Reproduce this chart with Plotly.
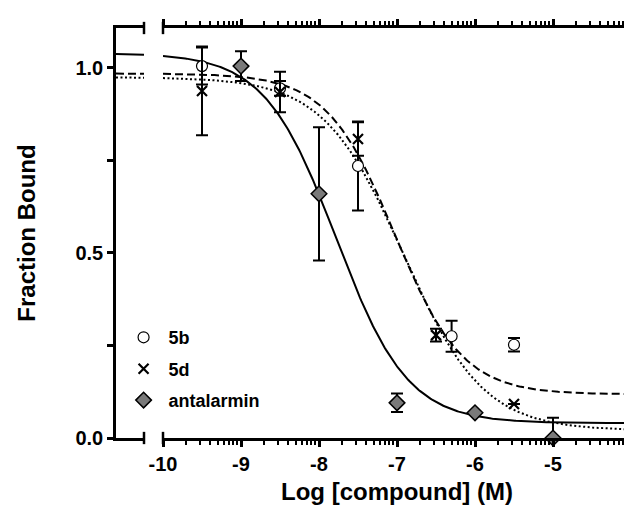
import numpy as np
import plotly.graph_objects as go

# ---- data ----
x_5b = [-9.5, -8.5, -7.5, -6.3, -5.5]
y_5b = [1.005, 0.945, 0.735, 0.275, 0.252]
e_5b = [0.05, 0.02, 0.12, 0.042, 0.018]

x_5d = [-9.5, -8.5, -7.5, -6.5, -5.5]
y_5d = [0.938, 0.935, 0.808, 0.278, 0.092]
e_5d = [0.12, 0.055, 0.045, 0.017, 0.0]

x_ant = [-9, -8, -7, -6, -5]
y_ant = [1.005, 0.66, 0.095, 0.068, 0.0]
e_ant_up = [0.04, 0.18, 0.025, 0.0, 0.055]
e_ant_dn = [0.04, 0.18, 0.025, 0.0, 0.0]

# fitted 4-parameter curves: top, bottom, logIC50, hill slope
fit_5b = [0.985, 0.118, -7.03, 1.0]
fit_5d = [0.975, 0.02, -6.92, 0.85]
fit_ant = [1.04, 0.04, -7.78, 0.95]

x_tickvals = [-10, -9, -8, -7, -6, -5, -4]
x_ticktext = ["-10", "-9", "-8", "-7", "-6", "-5", "-4"]
y_tickvals = [0.0, 0.5, 1.0]
y_ticktext = ["0.0", "0.5", "1.0"]

# ---- helpers ----
def hill(xs, p):
    top, bot, c, h = p
    xs = np.asarray(xs)
    return bot + (top - bot) / (1 + 10 ** ((xs - c) * h))

minor_x = [d + np.log10(k) for d in range(-10, -4) for k in range(2, 10)]

W, H = 632, 513
L, R, T, B = 108, 9, 20, 83
pw = W - L - R
seg1_end = (136 - L) / pw
seg2_start = (155 - L) / pw
left_range = [-10.6, -10.244]

FONT = "Arial, 'Liberation Sans', sans-serif"

fig = go.Figure()

xs_main = np.linspace(-10, -4, 400)
xs_left = np.linspace(left_range[0], left_range[1], 30)
curves = [(fit_5b, "8px,4px"), (fit_5d, "2px,2.5px"), (fit_ant, "solid")]
for p, dash in curves:
    fig.add_trace(go.Scatter(x=xs_main, y=hill(xs_main, p), mode="lines",
                             line=dict(color="black", width=2, dash=dash),
                             showlegend=False, hoverinfo="skip", xaxis="x", yaxis="y"))
    fig.add_trace(go.Scatter(x=xs_left, y=hill(xs_left, p), mode="lines",
                             line=dict(color="black", width=2, dash=dash),
                             showlegend=False, hoverinfo="skip", xaxis="x2", yaxis="y"))

eb = dict(type="data", color="black", thickness=2, width=6)
fig.add_trace(go.Scatter(x=x_5b, y=y_5b, mode="markers", name="5b", legendgroup="a",
                         error_y=dict(array=e_5b, **eb),
                         marker=dict(symbol="circle", size=11, color="white",
                                     line=dict(color="black", width=1.2)),
                         cliponaxis=False, xaxis="x", yaxis="y"))
fig.add_trace(go.Scatter(x=x_5d, y=y_5d, mode="markers", name="5d", legendgroup="b",
                         error_y=dict(array=e_5d, **eb),
                         marker=dict(symbol="x-thin", size=10, color="black",
                                     line=dict(color="black", width=2.2)),
                         cliponaxis=False, xaxis="x", yaxis="y"))
fig.add_trace(go.Scatter(x=x_ant, y=y_ant, mode="markers", name="antalarmin", legendgroup="c",
                         error_y=dict(array=e_ant_up, arrayminus=e_ant_dn, symmetric=False, **eb),
                         marker=dict(symbol="diamond", size=12, color="#7a7a7a",
                                     line=dict(color="black", width=1.5)),
                         cliponaxis=False, xaxis="x", yaxis="y"))

axis_font = dict(family=FONT, size=20, color="black", weight="bold")
title_font = dict(family=FONT, size=24, color="black", weight="bold")
yr = [0, 1.108]

fig.update_layout(
    width=W, height=H,
    margin=dict(l=L, r=R, t=T, b=B, autoexpand=False),
    paper_bgcolor="white", plot_bgcolor="white",
    showlegend=True,
    legend=dict(x=0.005, y=0.29, xanchor="left", yanchor="top",
                bgcolor="rgba(0,0,0,0)", tracegroupgap=5, itemwidth=40,
                font=dict(family=FONT, size=18, color="black", weight="bold")),
    xaxis=dict(domain=[seg2_start, 1], range=[-10, -4], showgrid=False, zeroline=False,
               automargin=False,
               showline=True, linecolor="black", linewidth=2.5, mirror="ticks",
               ticks="outside", ticklen=6, tickwidth=2.5, tickcolor="black",
               tickmode="array", tickvals=x_tickvals, ticktext=x_ticktext,
               tickfont=axis_font,
               minor=dict(tickmode="array", tickvals=minor_x, ticks="outside",
                          ticklen=4, tickwidth=2, tickcolor="black"),
               title=dict(text="Log [compound] (M)", font=title_font, standoff=10),
               anchor="y"),
    xaxis2=dict(domain=[0, seg1_end], range=left_range, showgrid=False, zeroline=False,
                automargin=False,
                showline=True, linecolor="black", linewidth=2.5, mirror=True,
                ticks="", showticklabels=False, anchor="y"),
    yaxis=dict(range=yr, showgrid=False, zeroline=False, anchor="x2", automargin=False,
               showline=True, linecolor="black", linewidth=2.5,
               ticks="outside", ticklen=6, tickwidth=2.5, tickcolor="black",
               tickmode="array", tickvals=y_tickvals, ticktext=y_ticktext,
               tickfont=axis_font,
               minor=dict(tickmode="array", tickvals=[0.25, 0.75], ticks="outside",
                          ticklen=6, tickwidth=2.5, tickcolor="black"),
               title=dict(text="Fraction Bound", font=title_font, standoff=34)),
    yaxis2=dict(range=yr, overlaying="y", side="right", anchor="x", showgrid=False,
                automargin=False,
                zeroline=False, showline=True, linecolor="black", linewidth=2.5,
                ticks="outside", ticklen=6, tickwidth=2.5, tickcolor="black",
                tickmode="array", tickvals=y_tickvals, showticklabels=False,
                minor=dict(tickmode="array", tickvals=[0.25, 0.75], ticks="outside",
                           ticklen=6, tickwidth=2.5, tickcolor="black")),
)

# axis-break bracket ends (bottom and top)
for xp in [seg1_end, seg2_start]:
    for yp in [0, 1]:
        fig.add_shape(type="line", xref="paper", yref="paper", x0=xp, x1=xp,
                      y0=yp - 0.015, y1=yp + 0.015,
                      line=dict(color="black", width=2.5))

fig.write_html("out.html")
